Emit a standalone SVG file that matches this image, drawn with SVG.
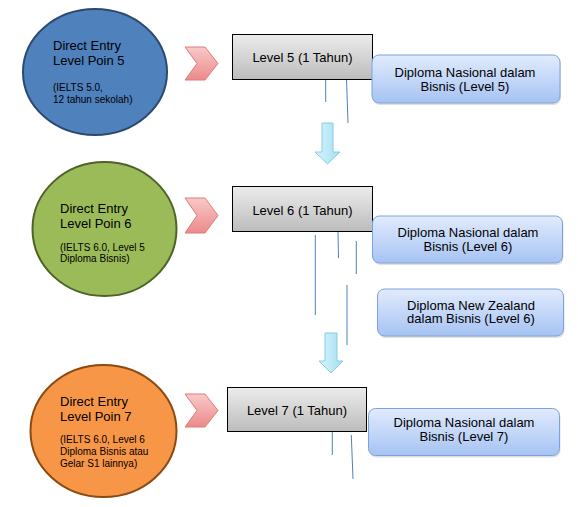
<svg xmlns="http://www.w3.org/2000/svg" width="578" height="507" viewBox="0 0 578 507">
<defs>
<linearGradient id="gGray" x1="0" y1="0" x2="0" y2="1"><stop offset="0" stop-color="#ececec"/><stop offset="1" stop-color="#bcbcbc"/></linearGradient>
<linearGradient id="gBlue" x1="0" y1="0" x2="0" y2="1"><stop offset="0" stop-color="#e1ebfd"/><stop offset="1" stop-color="#a6c3f3"/></linearGradient>
<linearGradient id="gPink" x1="0" y1="0" x2="0" y2="1"><stop offset="0" stop-color="#f9c9c9"/><stop offset="1" stop-color="#ec8a8a"/></linearGradient>
<linearGradient id="gCyan" x1="0" y1="0" x2="1" y2="0"><stop offset="0" stop-color="#d9f4fc"/><stop offset="1" stop-color="#a3dff3"/></linearGradient>
</defs>
<style>
text{font-family:"Liberation Sans",Arial,sans-serif;fill:#000}
.big{font-size:13px}
.sm{font-size:10px}
.mid{text-anchor:middle}
.lvl{fill:url(#gGray);stroke:#000;stroke-width:1}
.dip{fill:url(#gBlue);stroke:#7da2d9;stroke-width:1}
.shd{fill:#000;opacity:0.12}
.chev{fill:url(#gPink);stroke:#e07a7a;stroke-width:1}
.down{fill:url(#gCyan);stroke:#86cde0;stroke-width:1}
.ln{stroke:#4f81bd;stroke-width:1;fill:none}
</style>
<rect width="578" height="507" fill="#fff"/>

<g id="entry5">
<ellipse cx="95" cy="72" rx="72" ry="63" fill="#4f81bd" stroke="#2b4a70" stroke-width="2"/>
<text class="big" x="53" y="50">Direct Entry</text>
<text class="big" x="53" y="65">Level Poin 5</text>
<text class="sm" x="53" y="91">(IELTS 5.0,</text>
<text class="sm" x="53" y="103">12 tahun sekolah)</text>
</g>
<g id="entry6">
<ellipse cx="104.5" cy="229" rx="72" ry="67" fill="#9bbb59" stroke="#4f6228" stroke-width="2"/>
<text class="big" x="60" y="213">Direct Entry</text>
<text class="big" x="60" y="228">Level Poin 6</text>
<text class="sm" x="60" y="251">(IELTS 6.0, Level 5</text>
<text class="sm" x="60" y="262">Diploma Bisnis)</text>
</g>
<g id="entry7">
<ellipse cx="103.5" cy="431" rx="73" ry="66" fill="#f79646" stroke="#8a4a12" stroke-width="2"/>
<text class="big" x="60" y="406">Direct Entry</text>
<text class="big" x="60" y="421">Level Poin 7</text>
<text class="sm" x="60" y="443">(IELTS 6.0, Level 6</text>
<text class="sm" x="60" y="455">Diploma Bisnis atau</text>
<text class="sm" x="60" y="467">Gelar S1 lainnya)</text>
</g>

<g id="connectors">
<polygon class="chev" points="185,47 205,47 218,63.5 205,80 185,80 197,63.5"/>
<polygon class="chev" points="185,198 205,198 218,215.5 205,233 185,233 197,215.5"/>
<polygon class="chev" points="185,394 205,394 218,410.5 205,427 185,427 197,410.5"/>
<polygon class="down" points="322,123 333,123 333,152 340,152 327.5,164 315,152 322,152"/>
<polygon class="down" points="325,333 337,333 337,361 343,361 331,373 319,361 325,361"/>
<line class="ln" x1="325.7" y1="79" x2="325.7" y2="102"/>
<line class="ln" x1="346.5" y1="79" x2="348" y2="123"/>
<line class="ln" x1="315.3" y1="235" x2="315.3" y2="315"/>
<line class="ln" x1="338" y1="232" x2="338.5" y2="258"/>
<line class="ln" x1="356.3" y1="241" x2="356.3" y2="274"/>
<line class="ln" x1="347" y1="285" x2="347" y2="345"/>
<line class="ln" x1="332.3" y1="432" x2="332.3" y2="455"/>
<line class="ln" x1="351.3" y1="435" x2="353" y2="479"/>
</g>

<g id="level5">
<rect class="lvl" x="232.5" y="34.5" width="140" height="45"/>
<text class="big mid" x="302.5" y="62">Level 5 (1 Tahun)</text>
</g>
<g id="level6">
<rect class="lvl" x="232.5" y="186.5" width="140" height="45"/>
<text class="big mid" x="302.5" y="215">Level 6 (1 Tahun)</text>
</g>
<g id="level7">
<rect class="lvl" x="227.5" y="387.5" width="139" height="44"/>
<text class="big mid" x="297" y="415">Level 7 (1 Tahun)</text>
</g>

<g id="dip5">
<rect class="shd" x="373" y="57" width="188" height="48" rx="7"/>
<rect class="dip" x="372" y="55" width="188" height="48" rx="7"/>
<text class="big mid" x="465" y="77">Diploma Nasional dalam</text>
<text class="big mid" x="465" y="91">Bisnis (Level 5)</text>
</g>
<g id="dip6">
<rect class="shd" x="373.5" y="218" width="190" height="47" rx="7"/>
<rect class="dip" x="372.5" y="216" width="190" height="47" rx="7"/>
<text class="big mid" x="468" y="236.5">Diploma Nasional dalam</text>
<text class="big mid" x="468" y="250.5">Bisnis (Level 6)</text>
</g>
<g id="dipnz6">
<rect class="shd" x="378.5" y="291" width="186" height="47" rx="7"/>
<rect class="dip" x="377.5" y="289" width="186" height="47" rx="7"/>
<text class="big mid" x="471" y="309.5">Diploma New Zealand</text>
<text class="big mid" x="471" y="323">dalam Bisnis (Level 6)</text>
</g>
<g id="dip7">
<rect class="shd" x="369.5" y="410.5" width="191" height="47" rx="7"/>
<rect class="dip" x="368.5" y="408.5" width="191" height="47" rx="7"/>
<text class="big mid" x="464" y="426.5">Diploma Nasional dalam</text>
<text class="big mid" x="464" y="440.5">Bisnis (Level 7)</text>
</g>
</svg>
